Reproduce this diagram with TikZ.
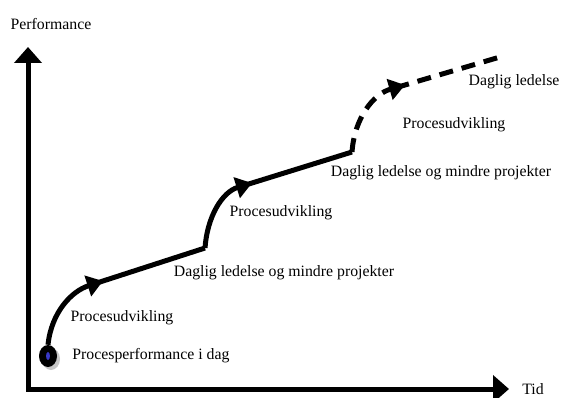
\documentclass[tikz,border=0pt]{standalone}
\usepackage{fontspec}
\setmainfont{Liberation Serif}
\usepackage{tikz}
\usetikzlibrary{arrows.meta, positioning, shapes.geometric, shadows, calc}
\tikzset{
    axis/.style={
      {Triangle[length=16pt,width=27pt]}-{Triangle[length=16pt,width=27pt]}, %heads on both axes
      line width=5pt,
      line join=miter,
    },
    curve/.style={
      line width=5pt,
      line cap=butt,
    },
    tipped/.style={
      -{Triangle[length=16pt,width=21pt]}, %head in the middle of the curve
    },
    futurepart/.style={
      dash pattern=on 14pt off 9pt, %not reached yet
    },
    lbl/.style={
      font=\fontsize{15.8}{18}\selectfont,
      inner sep=0pt,
    },
    startdot/.style={
      ellipse, fill=black, inner sep=0pt,
      minimum width=18pt, minimum height=22pt,
      drop shadow={shadow xshift=3pt, shadow yshift=-3pt, fill=gray!45, opacity=1},
    },
  }

\begin{document}
\begin{tikzpicture}[x=1pt, y=1pt]
          \useasboundingbox (0,0) rectangle (561,397);

          % axes
          \coordinate (origin) at (28,8);
          \coordinate (ytop) at (28,350);
          \coordinate (xend) at (509,8);
          \draw[axis] (ytop) -- (origin) -- (xend);
          \node[lbl] (perf) at (51,373) {Performance};
          \node[lbl] (tid) at (533,8) {Tid};

          % where we are today
          \node[startdot] (start) at (48,41) {};
          \node[ellipse, fill=blue!55!gray, inner sep=0pt, minimum width=4pt, minimum height=8pt] (core) at (start) {};
          \node[lbl, right=15pt of start] (today) {Procesperformance i dag};

          % steps of the curve
          \coordinate (a1) at (103,116);
          \coordinate (k1) at (205,149);
          \coordinate (a2) at (252,214);
          \coordinate (k2) at (352,245);
          \coordinate (a3) at (405,312);
          \coordinate (finish) at (500,340);

          \draw[curve, tipped] (start.north) to[out=84, in=198] (a1);
          \draw[curve] ($(a1)!-10pt!(k1)$) -- (k1);
          \draw[curve, tipped] (k1) to[out=86, in=197] (a2);
          \draw[curve] ($(a2)!-10pt!(k2)$) -- (k2);
          \draw[curve, futurepart, tipped] (k2) to[out=86, in=196] (a3);
          \draw[curve, futurepart] ($(a3)!-10pt!(finish)$) -- (finish);

          \node[lbl] (proc1) at (122,79) {Procesudvikling};
          \node[lbl] (dag1) at (284,124) {Daglig ledelse og mindre projekter};
          \node[lbl] (proc2) at (281,184) {Procesudvikling};
          \node[lbl] (dag2) at (441,224) {Daglig ledelse og mindre projekter};
          \node[lbl] (proc3) at (454,272) {Procesudvikling};
          \node[lbl] (dag3) at (514,315) {Daglig ledelse};
        \end{tikzpicture}
\end{document}
